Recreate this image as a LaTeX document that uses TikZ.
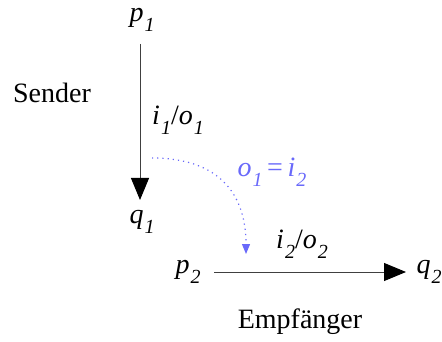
\documentclass[tikz,border=0pt]{standalone}
\usepackage{fontspec}
\setmainfont{Liberation Serif}
\usetikzlibrary{arrows.meta}

% italic letter with a lowered italic index
\newcommand{\idx}[2]{\textit{#1}\kern.5pt\raisebox{-.8ex}{\fontsize{10}{10}\selectfont\textit{#2}}}

\begin{document}
\begin{tikzpicture}[
  x=.5pt,y=-.5pt,
  font=\fontsize{14}{17}\selectfont,
  state/.style={inner sep=1pt},
  trans/.style={-{Triangle[length=11pt,width=9pt,color=black]},line width=.5pt,draw=black!75},
  link/.style={-{Triangle[length=5pt,width=4pt]},dotted,line width=.6pt,draw=linkblue},
]
\definecolor{linkblue}{RGB}{105,105,250}
\useasboundingbox (0,0) rectangle (442,341);
\node[state] (p1) at (142,20) {\idx{p}{1}};
\node[state] (q1) at (142,222) {\idx{q}{1}};
\node[state] (p2) at (188,272) {\idx{p}{2}};
\node[state] (q2) at (429,272) {\idx{q}{2}};
\node (sender) at (52,93) {Sender};
\node (empf) at (300,322) {Empfänger};
\coordinate (send) at (152,158);
\coordinate (recv) at (246,254);
\draw[trans] (140,44) coordinate (s1) -- (140,200) coordinate (t1);
\node (lab1) at (178,120) {\idx{i}{1}/\idx{o}{1}};
\draw[trans] (214,272) coordinate (s2) -- (406,272) coordinate (t2);
\node (lab2) at (302,244) {\idx{i}{2}/\idx{o}{2}};
\draw[link] (send) .. controls (220,158) and (246,195) .. (recv);
\node[text=linkblue] (eq) at (272,172) {\idx{o}{1}\,=\,\idx{i}{2}};
\end{tikzpicture}
\end{document}
